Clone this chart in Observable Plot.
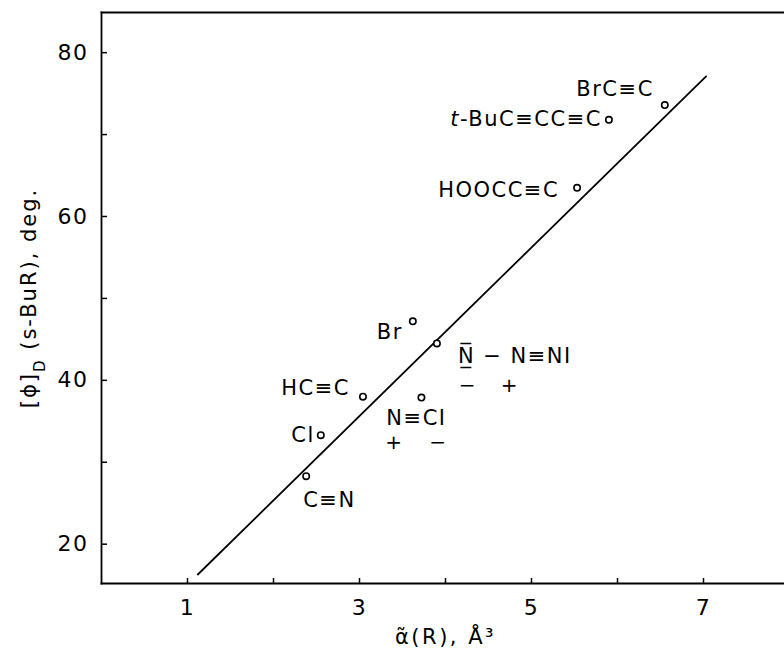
<!DOCTYPE html>
<html><head><meta charset="utf-8">
<script src="https://cdn.jsdelivr.net/npm/d3@7"></script>
<script src="https://cdn.jsdelivr.net/npm/@observablehq/plot@0.6"></script>
<style>
html,body{margin:0;padding:0;background:#fff;overflow:hidden}
svg text{letter-spacing:1.5px}
</style></head><body><div id="chart"></div>
<script>
// data
const labels = ["C≡N", "Cl", "HC≡C", "N≡CI", "Br", "N\u0305\u0332 \u2212 N≡NI", "HOOCC≡C", "t-BuC≡CC≡C", "BrC≡C"];
const alpha = [2.38, 2.55, 3.04, 3.72, 3.62, 3.90, 5.53, 5.90, 6.55];
const rotation = [28.3, 33.3, 38.0, 37.9, 47.2, 44.5, 63.5, 71.8, 73.6];
const fitX = [1.12, 7.03];
const fitY = [16.3, 77.1];
const xTicks = [1, 2, 3, 4, 5, 6, 7];
const yTicks = [20, 30, 40, 50, 60, 70, 80];
const xLabel = "\u03B1\u0303(R), \u00C5\u00B3";
const yLabel = ["[\u03D5]", "D", " (s-BuR), deg."];

const points = labels.map((label, i) => ({label, x: alpha[i], y: rotation[i]}));
const fit = fitX.map((x, i) => ({x, y: fitY[i]}));

const fs = 21;
function lab(i, opts) {
  return Plot.text([points[i]], {x: "x", y: "y", text: "label", fontSize: fs, fill: "black", ...opts});
}
function charge(i, sym, dx, dy) {
  return Plot.text([points[i]], {x: "x", y: "y", text: () => sym, fontSize: 20, fill: "black", dx, dy});
}

const chart = Plot.plot({
  width: 784,
  height: 655,
  marginLeft: 101,
  marginRight: -5,
  marginTop: 12,
  marginBottom: 72,
  style: {fontFamily: "DejaVu Sans", color: "black", background: "white", overflow: "hidden"},
  x: {domain: [0, 8]},
  y: {domain: [15.2, 84.9]},
  marks: [
    Plot.frame({anchor: "left", stroke: "black", strokeWidth: 1.8}),
    Plot.frame({anchor: "top", stroke: "black", strokeWidth: 1.8}),
    Plot.frame({anchor: "bottom", stroke: "black", strokeWidth: 1.8}),
    Plot.axisX({ticks: xTicks, tickSize: -5, tickPadding: 21, tickFormat: d => d % 2 === 1 ? String(d) : "", fontSize: 22, label: null, strokeWidth: 1.5}),
    Plot.axisY({ticks: yTicks, tickSize: -6, tickPadding: 19, tickFormat: d => d % 20 === 0 ? String(d) : "", fontSize: 22, label: null, strokeWidth: 1.5}),
    Plot.line(fit, {x: "x", y: "y", stroke: "black", strokeWidth: 1.8}),
    Plot.dot(points, {x: "x", y: "y", r: 3.2, stroke: "black", strokeWidth: 1.6, fill: "white"}),
    lab(0, {textAnchor: "start", dx: -3, dy: 24}),
    lab(1, {textAnchor: "end", dx: -6, dy: 0}),
    lab(2, {textAnchor: "end", dx: -13, dy: -8}),
    lab(3, {textAnchor: "middle", dx: -5, dy: 21}),
    lab(4, {textAnchor: "end", dx: -10, dy: 11}),
    lab(5, {textAnchor: "start", dx: 21, dy: 13}),
    lab(6, {textAnchor: "end", dx: -18, dy: 2}),
    lab(7, {textAnchor: "end", dx: -7, dy: -1}),
    lab(8, {textAnchor: "end", dx: -11, dy: -16}),
    charge(5, "\u2212", 31, 42),
    charge(5, "+", 73, 42),
    charge(3, "+", -27, 45),
    charge(3, "\u2212", 17, 45),
    Plot.text([0], {frameAnchor: "bottom", dy: 60, text: () => xLabel, fontSize: 21, fill: "black"})
  ]
});
document.getElementById("chart").appendChild(chart);

const svg = d3.select(chart);
// italic t in the t-Bu label
svg.selectAll("text").each(function() {
  if (this.textContent === "t-BuC≡CC≡C") {
    const el = d3.select(this).text("");
    el.append("tspan").attr("font-style", "italic").text("t");
    el.append("tspan").text("-BuC≡CC≡C");
  }
  if (this.textContent === xLabel) d3.select(this).style("letter-spacing", "2.5px");
});
// rotated y-axis title with subscript D
const yt = svg.append("text")
  .attr("transform", "translate(36,298) rotate(-90)")
  .attr("text-anchor", "middle")
  .attr("font-size", 21)
  .attr("fill", "black")
  .style("letter-spacing", "2px");
yt.append("tspan").text(yLabel[0]);
yt.append("tspan").attr("baseline-shift", "sub").attr("font-size", 15).text(yLabel[1]);
yt.append("tspan").text(yLabel[2]);
</script>
</body></html>
